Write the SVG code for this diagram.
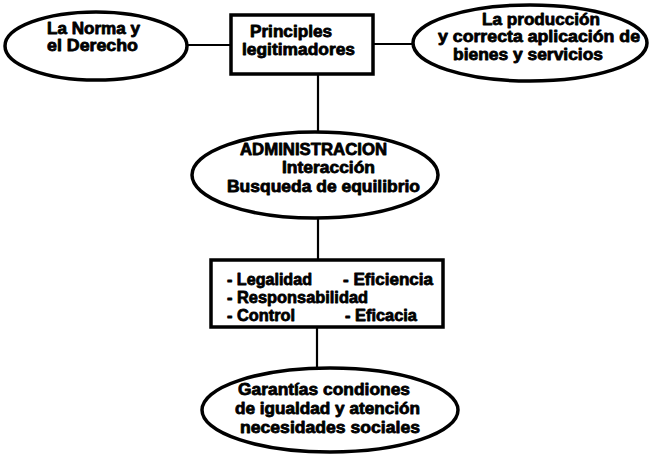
<svg xmlns="http://www.w3.org/2000/svg" width="651" height="454" viewBox="0 0 651 454">
<style>
.shape{fill:none;stroke:#000;stroke-width:3.5}
.conn{fill:none;stroke:#000;stroke-width:2.2}
text{font-family:"Liberation Sans",Arial,sans-serif;font-weight:bold;font-size:16.5px;fill:#000;stroke:#000;stroke-width:0.8;stroke-linejoin:round}
</style>
<rect width="651" height="454" fill="#fff"/>
<g id="connectors">
<line class="conn" x1="188" y1="45" x2="231" y2="45"/>
<line class="conn" x1="373" y1="44" x2="413" y2="44"/>
<line class="conn" x1="318" y1="74" x2="318" y2="132"/>
<line class="conn" x1="318" y1="218" x2="318" y2="260"/>
<line class="conn" x1="317" y1="327" x2="317" y2="368"/>
</g>
<g id="norma">
<ellipse class="shape" cx="96" cy="46" rx="91" ry="34"/>
<text x="47" y="34" textLength="93" lengthAdjust="spacingAndGlyphs">La Norma y</text>
<text x="47" y="51" textLength="91" lengthAdjust="spacingAndGlyphs">el Derecho</text>
</g>
<g id="principios">
<rect class="shape" x="231" y="15" width="142" height="59"/>
<text x="250" y="37" textLength="82" lengthAdjust="spacingAndGlyphs">Principles</text>
<text x="242" y="55" textLength="113" lengthAdjust="spacingAndGlyphs">legitimadores</text>
</g>
<g id="produccion">
<ellipse class="shape" cx="530" cy="43" rx="117" ry="38"/>
<text x="482" y="25" textLength="118" lengthAdjust="spacingAndGlyphs">La producción</text>
<text x="438" y="42" textLength="202" lengthAdjust="spacingAndGlyphs">y correcta aplicación de</text>
<text x="453" y="60" textLength="150" lengthAdjust="spacingAndGlyphs">bienes y servicios</text>
</g>
<g id="administracion">
<ellipse class="shape" cx="315" cy="175" rx="123" ry="43"/>
<text x="240" y="155" textLength="147" lengthAdjust="spacingAndGlyphs">ADMINISTRACION</text>
<text x="282" y="173" textLength="93" lengthAdjust="spacingAndGlyphs">Interacción</text>
<text x="227" y="192" textLength="193" lengthAdjust="spacingAndGlyphs">Busqueda de equilibrio</text>
</g>
<g id="principios-box">
<rect class="shape" x="211" y="260" width="232" height="67"/>
<text x="227" y="285" textLength="85" lengthAdjust="spacingAndGlyphs">- Legalidad</text>
<text x="343" y="285" textLength="90" lengthAdjust="spacingAndGlyphs">- Eficiencia</text>
<text x="227" y="303" textLength="141" lengthAdjust="spacingAndGlyphs">- Responsabilidad</text>
<text x="227" y="321" textLength="68" lengthAdjust="spacingAndGlyphs">- Control</text>
<text x="345" y="321" textLength="72" lengthAdjust="spacingAndGlyphs">- Eficacia</text>
</g>
<g id="garantias">
<ellipse class="shape" cx="330" cy="410" rx="128" ry="42"/>
<text x="238" y="395" textLength="172" lengthAdjust="spacingAndGlyphs">Garantías condiones</text>
<text x="235" y="414" textLength="185" lengthAdjust="spacingAndGlyphs">de igualdad y atención</text>
<text x="240" y="433" textLength="180" lengthAdjust="spacingAndGlyphs">necesidades sociales</text>
</g>
</svg>
